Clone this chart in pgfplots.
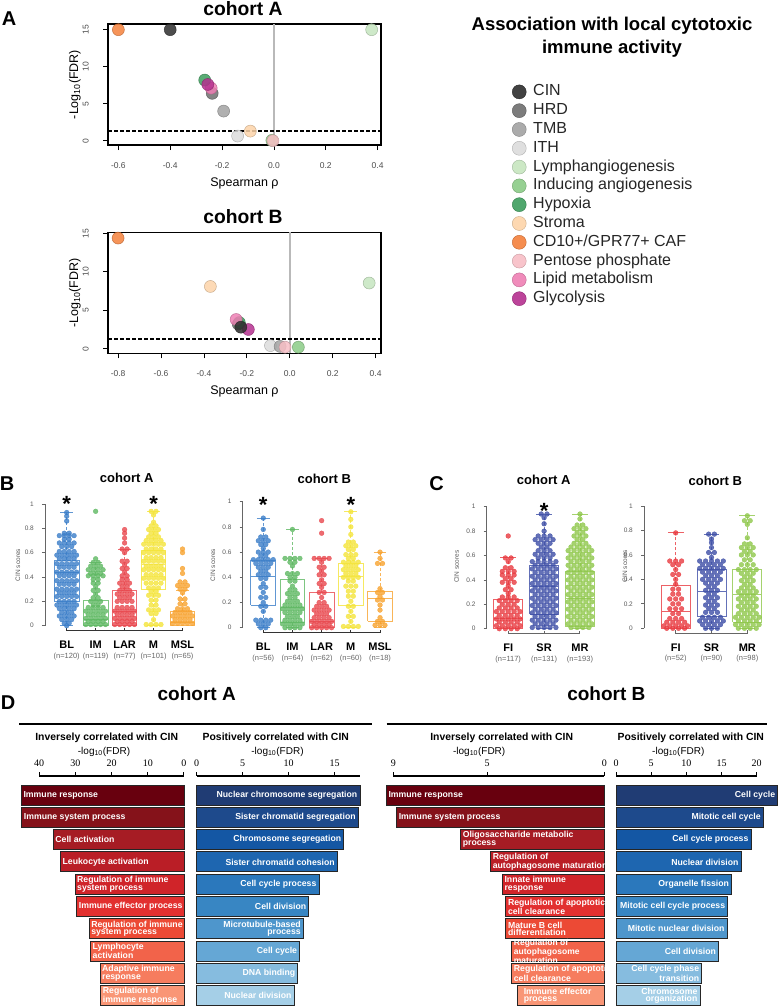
\documentclass[border=0pt]{standalone}
\usepackage{fontspec}
\setmainfont{Liberation Sans}
\newfontfamily\serifnum{Liberation Serif}
\usepackage{pgfplots}
\pgfplotsset{compat=1.18}
\newcommand\fs[1]{\fontsize{#1}{#1}\selectfont}

\definecolor{cCIN}{HTML}{2E2E2E}
\definecolor{cHRD}{HTML}{6E6E6E}
\definecolor{cTMB}{HTML}{A2A2A2}
\definecolor{cITH}{HTML}{DCDCDC}
\definecolor{cLym}{HTML}{C6E5BF}
\definecolor{cAng}{HTML}{8BCB86}
\definecolor{cHyp}{HTML}{3D9D5D}
\definecolor{cStr}{HTML}{FDD4A9}
\definecolor{cCAF}{HTML}{F4813C}
\definecolor{cPen}{HTML}{F7BEC5}
\definecolor{cLip}{HTML}{EE7FB4}
\definecolor{cGly}{HTML}{B5308F}
\definecolor{bBL}{HTML}{3A7DC8}
\definecolor{bIM}{HTML}{5EB862}
\definecolor{bLAR}{HTML}{E8474D}
\definecolor{bM}{HTML}{F4E43A}
\definecolor{bMSL}{HTML}{F7A22E}
\definecolor{cFI}{HTML}{E83A40}
\definecolor{cSR}{HTML}{3D4EA6}
\definecolor{cMR}{HTML}{8EC74A}
\definecolor{r1}{HTML}{68000E}
\definecolor{r2}{HTML}{85121A}
\definecolor{r3}{HTML}{A61C24}
\definecolor{r4}{HTML}{BA1E26}
\definecolor{r5}{HTML}{D02429}
\definecolor{r6}{HTML}{E2302F}
\definecolor{r7}{HTML}{EC4A35}
\definecolor{r8}{HTML}{F2634A}
\definecolor{r9}{HTML}{F67C5E}
\definecolor{r10}{HTML}{F99676}
\definecolor{u1}{HTML}{203C74}
\definecolor{u2}{HTML}{1E4A8C}
\definecolor{u3}{HTML}{1457A4}
\definecolor{u4}{HTML}{1E66B0}
\definecolor{u5}{HTML}{2B78BC}
\definecolor{u6}{HTML}{3886C3}
\definecolor{u7}{HTML}{4E96CC}
\definecolor{u8}{HTML}{65A7D5}
\definecolor{u9}{HTML}{86BCDF}
\definecolor{u10}{HTML}{A5CFE7}

\tikzset{
 leg/.style={only marks, mark=*, mark size=7pt, color=#1, mark options={fill opacity=0.9, draw=#1!80!black, line width=0.4pt}},
 lab/.style={font=\bfseries\fontsize{8.7}{7.8}\selectfont, text=white, inner sep=0pt, align=left, anchor=west, xshift=2pt},
 labr/.style={font=\bfseries\fontsize{8.7}{7.8}\selectfont, text=white, inner sep=0pt, align=right, anchor=east, xshift=-2.5pt},
 star/.style={font=\bfseries\fs{22}, anchor=base, inner sep=0pt},
}
\pgfplotsset{
 enlargelimits=false,
 pt/.style={only marks, mark=*, mark size=6pt, color=#1, mark options={fill opacity=0.85, draw=#1!75!black, draw opacity=0.8, line width=0.5pt}},
 dots/.style={only marks, mark=*, mark size=2.4pt, color=#1, mark options={fill opacity=0.8, draw opacity=0.9, line width=0.3pt}},
 bxl/.style={draw=#1!80!white, line width=0.9pt, no marks},
 volc/.style={scale only axis, clip=false, anchor=south west, width=273pt, height=121pt,
   tick align=outside, xtick pos=left, ytick pos=left, major tick length=5pt,
   every tick/.style={black, line width=0.8pt},
   tick label style={font=\fs{8.5}, text=black!70},
   xticklabel style={anchor=north, inner sep=0pt, yshift=-12pt},
   yticklabel style={xshift=-14pt, rotate=90, anchor=south, inner sep=0pt},
   axis line style={line width=1.1pt}, ytick={0,5,10,15}, yticklabels={0,5,10,15}},
 swarm/.style={scale only axis, clip=false, anchor=south west, ymin=-0.05, ymax=1,
   axis line style={draw=none}, ytick={0,0.2,0.4,0.6,0.8,1}, yticklabels={0,0.2,0.4,0.6,0.8,1},
   ytick pos=left, xtick pos=left, tick align=outside, major tick length=3pt,
   y tick style={black!60, line width=0.8pt}, x tick style={draw=none},
   yticklabel style={font=\fs{6.5}, text=black!65, anchor=east, inner sep=0pt, xshift=-8pt},
   xticklabel style={align=center, font=\fs{11}, inner sep=0pt, anchor=north, yshift=-6pt}},
 hb/.style={xbar, bar width=20pt, bar shift=0pt, draw=black!85, line width=0.9pt},
 dax/.style={scale only axis, clip=false, anchor=south west, height=230.85pt, ymin=0.5, ymax=10.852,
   axis line style={draw=none}, ytick=\empty, xtick pos=right, xticklabel pos=right,
   tick align=outside, major tick length=4pt, x tick style={black, line width=1pt},
   xticklabel style={font=\serifnum\fs{10}, inner sep=0pt, anchor=south, yshift=5pt}},
}
\newcommand\lbl[2]{{\bfseries #1}\\[-1.5pt]{\fs{7.5}\color{black!60}(n=#2)}}
\newcommand\col[3]{\addplot[dots=#1] table[header=false, x expr={#2}, y index=0, row sep=\\]{#3};}
\newcommand\cols[4]{\col{#1}{#2-#3}{#4}\col{#1}{#2+#3}{#4}}
% box: colour, position, half width, lower whisker, q1, median, q3, upper whisker
\newcommand\bx[8]{%
 \addplot[bxl=#1, x filter/.expression={x+#2}] coordinates {(-#3,#5)(#3,#5)(#3,#7)(-#3,#7)(-#3,#5)};
 \addplot[bxl=#1, x filter/.expression={x+#2}] coordinates {(-#3,#6)(#3,#6)};
 \addplot[bxl=#1, densely dashed, x filter/.expression={x+#2}] coordinates {(0,#7)(0,#8)};
 \addplot[bxl=#1, densely dashed, x filter/.expression={x+#2}] coordinates {(0,#5)(0,#4)};
 \addplot[bxl=#1, x filter/.expression={x+#2}] coordinates {(-0.22,#8)(0.22,#8)};
 \addplot[bxl=#1, x filter/.expression={x+#2}] coordinates {(-0.22,#4)(0.22,#4)};
}

\begin{document}
\begin{tikzpicture}[x=1pt,y=1pt]
\path[use as bounding box] (0,0) rectangle (780,-1007);

% panel letters
\node[font=\bfseries\fs{20}] at (9,-19) {A};
\node[font=\bfseries\fs{20}] at (7,-484) {B};
\node[font=\bfseries\fs{20}] at (436.5,-484) {C};
\node[font=\bfseries\fs{20}] at (8,-703) {D};

% ---------------- Panel A texts
\node[font=\bfseries\fs{18.5}, anchor=base] at (612,-30) {Association with local cytotoxic};
\node[font=\bfseries\fs{18.5}, anchor=base] at (612,-53) {immune activity};
\node[font=\bfseries\fs{19.3}, anchor=base] at (243,-15) {cohort A};
\node[font=\bfseries\fs{19.3}, anchor=base] at (243,-223.3) {cohort B};
\node[font=\fs{12.5}, anchor=base] at (244.5,-186) {Spearman ρ};
\node[font=\fs{12.5}, anchor=base] at (244.5,-394) {Spearman ρ};
\node[font=\fs{12.5}, rotate=90] at (75,-84.5) {-Log\textsubscript{10}(FDR)};
\node[font=\fs{12.5}, rotate=90] at (75,-293) {-Log\textsubscript{10}(FDR)};

\begin{axis}[volc, at={(108pt,-145pt)}, xmin=-0.64, xmax=0.413, ymin=-0.58, ymax=15.77,
  xtick={-0.6,-0.4,-0.2,0,0.2,0.4}, xticklabels={-0.6,-0.4,-0.2,0.0,0.2,0.4},
  legend style={at={(1.48,0.515)}, anchor=north west, draw=none, fill=none, inner sep=0pt,
    font=\fs{16}, cells={anchor=west}, row sep=0.8pt, column sep=6pt,
    nodes={inner sep=1pt, text height=12pt, text depth=4pt}, text=black!85},
  legend image code/.code={\draw[#1] plot coordinates {(7pt,0pt)};}]
\addplot[gray!55, line width=1.6pt, forget plot] coordinates {(0,-0.58) (0,15.77)};
\addplot[black, line width=1.8pt, dash pattern=on 4pt off 2pt, forget plot] coordinates {(-0.64,1.3) (0.413,1.3)};
\addplot[pt=cITH, forget plot] coordinates {(-0.14,0.63)};
\addplot[pt=cTMB, forget plot] coordinates {(-0.194,4.0)};
\addplot[pt=cHRD, forget plot] coordinates {(-0.238,6.4)};
\addplot[pt=cAng, forget plot] coordinates {(-0.008,0.05)};
\addplot[pt=cPen, forget plot] coordinates {(-0.004,0.0)};
\addplot[pt=cStr, forget plot] coordinates {(-0.091,1.3)};
\addplot[pt=cLip, forget plot] coordinates {(-0.242,7.1)};
\addplot[pt=cHyp, forget plot] coordinates {(-0.267,8.2)};
\addplot[pt=cGly, forget plot] coordinates {(-0.255,7.6)};
\addplot[pt=cCIN, forget plot] coordinates {(-0.4,15)};
\addplot[pt=cCAF, forget plot] coordinates {(-0.6,15)};
\addplot[pt=cLym, forget plot] coordinates {(0.377,15)};
\addlegendimage{leg=cCIN}\addlegendentry{CIN}
\addlegendimage{leg=cHRD}\addlegendentry{HRD}
\addlegendimage{leg=cTMB}\addlegendentry{TMB}
\addlegendimage{leg=cITH}\addlegendentry{ITH}
\addlegendimage{leg=cLym}\addlegendentry{Lymphangiogenesis}
\addlegendimage{leg=cAng}\addlegendentry{Inducing angiogenesis}
\addlegendimage{leg=cHyp}\addlegendentry{Hypoxia}
\addlegendimage{leg=cStr}\addlegendentry{Stroma}
\addlegendimage{leg=cCAF}\addlegendentry{CD10+/GPR77+ CAF}
\addlegendimage{leg=cPen}\addlegendentry{Pentose phosphate}
\addlegendimage{leg=cLip}\addlegendentry{Lipid metabolism}
\addlegendimage{leg=cGly}\addlegendentry{Glycolysis}
\end{axis}

\begin{axis}[volc, at={(108pt,-353.3pt)}, xmin=-0.847, xmax=0.425, ymin=-0.6, ymax=15.15,
  xtick={-0.8,-0.6,-0.4,-0.2,0,0.2,0.4}, xticklabels={-0.8,-0.6,-0.4,-0.2,0.0,0.2,0.4}]
\addplot[gray!55, line width=1.6pt] coordinates {(0,-0.6) (0,15.15)};
\addplot[black, line width=1.8pt, dash pattern=on 4pt off 2pt] coordinates {(-0.847,1.3) (0.425,1.3)};
\addplot[pt=cITH] coordinates {(-0.09,0.4)};
\addplot[pt=cTMB] coordinates {(-0.045,0.3)};
\addplot[pt=cPen] coordinates {(-0.022,0.2)};
\addplot[pt=cAng] coordinates {(0.04,0.2)};
\addplot[pt=cHRD] coordinates {(-0.24,3.2)};
\addplot[pt=cHyp] coordinates {(-0.235,3.4)};
\addplot[pt=cLip] coordinates {(-0.25,3.8)};
\addplot[pt=cGly] coordinates {(-0.193,2.5)};
\addplot[pt=cCIN] coordinates {(-0.228,2.8)};
\addplot[pt=cStr] coordinates {(-0.37,8.1)};
\addplot[pt=cCAF] coordinates {(-0.8,14.4)};
\addplot[pt=cLym] coordinates {(0.37,8.55)};
\end{axis}

% ---------------- Panel B / C texts
\node[font=\bfseries\fs{13}, anchor=base] at (126.7,-482.5) {cohort A};
\node[font=\bfseries\fs{13}, anchor=base] at (324.3,-483.3) {cohort B};
\node[font=\bfseries\fs{13}, anchor=base] at (543.7,-484.3) {cohort A};
\node[font=\bfseries\fs{13}, anchor=base] at (715.3,-485) {cohort B};
\node[font=\fs{6.5}, text=black!65, rotate=90] at (18,-565) {CIN scores};
\node[font=\fs{6.5}, text=black!65, rotate=90] at (213,-565) {CIN scores};
\node[font=\fs{6.5}, text=black!65, rotate=90] at (456.7,-566.7) {CIN scores};
\node[font=\fs{6.5}, text=black!65, rotate=90] at (625,-566) {CIN scores};

% B cohort A
\begin{axis}[swarm, at={(45pt,-631.8pt)}, width=152pt, height=127.8pt, xmin=0.25, xmax=5.5,
  xtick={1,2,3,4,5},
  xticklabels={{\lbl{BL}{120}},{\lbl{IM}{119}},{\lbl{LAR}{77}},{\lbl{M}{101}},{\lbl{MSL}{65}}}]
\draw[black!60, line width=1pt] (axis cs:0.25,0) -- (axis cs:0.25,1);
\draw[black!80, line width=1pt] (axis cs:1,-0.015) -- (axis cs:1,-0.04) -- (axis cs:5,-0.04) -- (axis cs:5,-0.015);
\draw[black!80, line width=1pt] (axis cs:2,-0.04) -- (axis cs:2,-0.015) (axis cs:3,-0.04) -- (axis cs:3,-0.015) (axis cs:4,-0.04) -- (axis cs:4,-0.015);
\bx{bBL}{1}{0.425}{0}{0.2}{0.44}{0.54}{0.93}
\bx{bIM}{2}{0.425}{0}{0}{0.05}{0.21}{0.52}
\bx{bLAR}{3}{0.425}{0}{0}{0.12}{0.29}{0.63}
\bx{bM}{4}{0.425}{0}{0.3}{0.5}{0.62}{0.94}
\bx{bMSL}{5}{0.425}{0}{0}{0.03}{0.12}{0.29}
\col{bBL}{1}{.93\\.90\\.86\\0\\.65\\.05\\.11\\.58\\.51\\.44\\.37\\.30\\.24\\.17\\}
\cols{bBL}{1}{.085}{.76\\.71\\.02\\.74\\.68\\.61\\.55\\.48\\.41\\.34\\.27\\.20\\.14\\.08\\}
\cols{bBL}{1}{.17}{.65\\.05\\.11\\.58\\.51\\.44\\.37\\.30\\.24\\.17\\}
\cols{bBL}{1}{.255}{.74\\.68\\.61\\.55\\.48\\.41\\.34\\.27\\.20\\.14\\.08\\}
\cols{bBL}{1}{.34}{.58\\.51\\.44\\.37\\.30\\.24\\.17\\}
\col{bIM}{2}{.94\\.55\\.32\\.26\\.49\\.43\\.20\\.12\\.06\\.01\\}
\cols{bIM}{2}{.085}{.52\\.38\\.35\\.29\\.23\\.17\\.46\\.41\\.15\\.09\\.035\\}
\cols{bIM}{2}{.17}{.49\\.43\\.20\\.12\\.06\\.01\\}
\cols{bIM}{2}{.255}{.46\\.41\\.15\\.09\\.035\\}
\cols{bIM}{2}{.34}{.12\\.06\\.01\\}
\col{bLAR}{3}{.79\\.76\\.72\\.68\\.60\\.50\\.44\\.35\\.29\\.23\\.12\\.06\\.01\\}
\cols{bLAR}{3}{.085}{.63\\.53\\.47\\.41\\.38\\.32\\.26\\.20\\.15\\.09\\.035\\}
\cols{bLAR}{3}{.17}{.35\\.29\\.23\\.12\\.06\\.01\\}
\cols{bLAR}{3}{.255}{.26\\.20\\.15\\.09\\.035\\}
\cols{bLAR}{3}{.34}{.12\\.06\\.01\\}
\col{bM}{4}{.91\\.85\\.05\\.79\\.73\\.31\\.25\\.13\\.67\\.60\\.53\\.46\\.39\\}
\cols{bM}{4}{.085}{.94\\.82\\.76\\.28\\.21\\.17\\.10\\.70\\.63\\.56\\.49\\.42\\.35\\.01\\}
\cols{bM}{4}{.17}{.79\\.73\\.31\\.25\\.13\\.67\\.60\\.53\\.46\\.39\\}
\cols{bM}{4}{.255}{.70\\.63\\.56\\.49\\.42\\.35\\.01\\}
\cols{bM}{4}{.34}{.67\\.60\\.53\\.46\\.39\\}
\col{bMSL}{5}{.63\\.60\\.47\\.43\\.27\\.33\\.14\\.08\\.02\\}
\cols{bMSL}{5}{.085}{.36\\.30\\.22\\.18\\.11\\.05\\}
\cols{bMSL}{5}{.17}{.33\\.14\\.08\\.02\\}
\cols{bMSL}{5}{.255}{.11\\.05\\}
\cols{bMSL}{5}{.34}{.08\\.02\\}
\node[star] at (axis cs:1,0.935) {*};
\node[star] at (axis cs:4,0.935) {*};
\end{axis}

% B cohort B
\begin{axis}[swarm, at={(242.7pt,-634pt)}, width=151.9pt, height=132.3pt, xmin=0.295, xmax=5.5,
  xtick={1,2,3,4,5},
  xticklabels={{\lbl{BL}{56}},{\lbl{IM}{64}},{\lbl{LAR}{62}},{\lbl{M}{60}},{\lbl{MSL}{18}}}]
\draw[black!60, line width=1pt] (axis cs:0.295,0) -- (axis cs:0.295,1);
\draw[black!80, line width=1pt] (axis cs:1,-0.015) -- (axis cs:1,-0.04) -- (axis cs:5,-0.04) -- (axis cs:5,-0.015);
\draw[black!80, line width=1pt] (axis cs:2,-0.04) -- (axis cs:2,-0.015) (axis cs:3,-0.04) -- (axis cs:3,-0.015) (axis cs:4,-0.04) -- (axis cs:4,-0.015);
\bx{bBL}{1}{0.425}{0}{0.18}{0.41}{0.53}{0.87}
\bx{bIM}{2}{0.425}{0}{0.04}{0.16}{0.38}{0.78}
\bx{bLAR}{3}{0.425}{0}{0}{0.05}{0.28}{0.55}
\bx{bM}{4}{0.425}{0}{0.18}{0.41}{0.51}{0.92}
\bx{bMSL}{5}{0.425}{0}{0.05}{0.23}{0.29}{0.60}
\col{bBL}{1}{.87\\.78\\.63\\.35\\.28\\.20\\.13\\.69\\.60\\.48\\.42\\.03\\.54\\}
\cols{bBL}{1}{.085}{.72\\.66\\.57\\.45\\.39\\.32\\.24\\.17\\0\\.51\\.06\\}
\cols{bBL}{1}{.17}{.69\\.60\\.48\\.42\\.03\\.54\\}
\cols{bBL}{1}{.255}{.51\\.06\\}
\cols{bBL}{1}{.34}{.54\\}
\col{bIM}{2}{.78\\.49\\.33\\.43\\.27\\.21\\.09\\.15\\.03\\}
\cols{bIM}{2}{.085}{.52\\.40\\.37\\.30\\.24\\.55\\.18\\.12\\.06\\0\\}
\cols{bIM}{2}{.17}{.43\\.27\\.21\\.09\\.15\\.03\\}
\cols{bIM}{2}{.255}{.55\\.18\\.12\\.06\\0\\}
\cols{bIM}{2}{.34}{.15\\.03\\}
\col{bLAR}{3}{.85\\.75\\.52\\.45\\.38\\.32\\.24\\.17\\.11\\.05\\0\\}
\cols{bLAR}{3}{.085}{.48\\.42\\.35\\.28\\.20\\.55\\.14\\.08\\.025\\}
\cols{bLAR}{3}{.17}{.17\\.11\\.05\\0\\}
\cols{bLAR}{3}{.255}{.55\\.14\\.08\\.025\\}
\cols{bLAR}{3}{.34}{.05\\0\\}
\col{bM}{4}{.92\\.86\\.80\\.74\\.21\\.13\\.05\\.65\\.58\\.49\\.43\\.33\\}
\cols{bM}{4}{.085}{.68\\.62\\.55\\.37\\.29\\.25\\.17\\.09\\.52\\.46\\.40\\.01\\}
\cols{bM}{4}{.17}{.65\\.58\\.49\\.43\\.33\\}
\cols{bM}{4}{.255}{.52\\.46\\.40\\.01\\}
\col{bMSL}{5}{.60\\.55\\.31\\.25\\.18\\.14\\.08\\.02\\}
\cols{bMSL}{5}{.085}{.51\\.28\\.22\\.05\\}
\cols{bMSL}{5}{.17}{.02\\}
\node[star] at (axis cs:1,0.912) {*};
\node[star] at (axis cs:4,0.912) {*};
\end{axis}

% C cohort A
\begin{axis}[swarm, at={(486.7pt,-634.8pt)}, width=113pt, height=128.1pt, xmin=0.4, xmax=3.55,
  xtick={1,2,3},
  xticklabels={{\lbl{FI}{117}},{\lbl{SR}{131}},{\lbl{MR}{193}}}]
\draw[black!60, line width=1pt] (axis cs:0.4,0) -- (axis cs:0.4,1);
\draw[black!60, line width=1pt] (axis cs:1,-0.015) -- (axis cs:1,-0.04) -- (axis cs:3,-0.04) -- (axis cs:3,-0.015);
\draw[black!60, line width=1pt] (axis cs:2,-0.04) -- (axis cs:2,-0.015);
\bx{cFI}{1}{0.405}{0}{0}{0.08}{0.24}{0.58}
\bx{cSR}{2}{0.405}{0}{0.12}{0.35}{0.52}{0.94}
\bx{cMR}{3}{0.405}{0}{0.02}{0.25}{0.47}{0.94}
\col{cFI}{1}{.76\\.55\\.29\\.35\\.47\\.44\\.38\\.26\\.20\\.14\\.08\\.025\\}
\cols{cFI}{1}{.08}{.58\\.50\\.41\\.32\\.23\\.17\\.11\\.055\\0\\}
\cols{cFI}{1}{.165}{.47\\.44\\.38\\.26\\.20\\.14\\.08\\.025\\}
\cols{cFI}{1}{.25}{.23\\.17\\.11\\.055\\0\\}
\cols{cFI}{1}{.33}{.14\\.08\\.025\\}
\col{cSR}{2}{.91\\.86\\.80\\.76\\.70\\.64\\.58\\.55\\.49\\.43\\.37\\.31\\.25\\.19\\.13\\.07\\.01\\}
\cols{cSR}{2}{.08}{.94\\.67\\.73\\.61\\.52\\.46\\.40\\.34\\.28\\.22\\.16\\.10\\.04\\}
\cols{cSR}{2}{.165}{.76\\.70\\.64\\.58\\.55\\.49\\.43\\.37\\.31\\.25\\.19\\.13\\.07\\.01\\}
\cols{cSR}{2}{.25}{.73\\.61\\.52\\.46\\.40\\.34\\.28\\.22\\.16\\.10\\.04\\}
\cols{cSR}{2}{.33}{.55\\.49\\.43\\.37\\.31\\.25\\.19\\.13\\.07\\.01\\}
\col{cMR}{3}{.94\\.90\\.82\\.76\\.70\\.64\\.58\\.52\\.46\\.40\\.34\\.28\\.22\\.16\\.10\\.04\\}
\cols{cMR}{3}{.08}{.85\\.79\\.73\\.67\\.61\\.55\\.49\\.43\\.37\\.31\\.25\\.19\\.13\\.07\\.01\\}
\cols{cMR}{3}{.165}{.82\\.76\\.70\\.64\\.58\\.52\\.46\\.40\\.34\\.28\\.22\\.16\\.10\\.04\\}
\cols{cMR}{3}{.25}{.67\\.61\\.55\\.49\\.43\\.37\\.31\\.25\\.19\\.13\\.07\\.01\\}
\cols{cMR}{3}{.33}{.64\\.58\\.52\\.46\\.40\\.34\\.28\\.22\\.16\\.10\\.04\\}
\node[star] at (axis cs:2,0.9) {*};
\end{axis}

% C cohort B
\begin{axis}[swarm, at={(644pt,-634.4pt)}, width=123pt, height=128.4pt, xmin=0.115, xmax=3.55,
  xtick={1,2,3},
  xticklabels={{\lbl{FI}{52}},{\lbl{SR}{90}},{\lbl{MR}{98}}}]
\draw[black!60, line width=1pt] (axis cs:0.115,0) -- (axis cs:0.115,1);
\draw[black!60, line width=1pt] (axis cs:1,-0.015) -- (axis cs:1,-0.04) -- (axis cs:3,-0.04) -- (axis cs:3,-0.015);
\draw[black!60, line width=1pt] (axis cs:2,-0.04) -- (axis cs:2,-0.015);
\bx{cFI}{1}{0.405}{0}{0}{0.14}{0.35}{0.78}
\bx{cSR}{2}{0.405}{0}{0.1}{0.3}{0.48}{0.77}
\bx{cMR}{3}{0.405}{0}{0.05}{0.28}{0.48}{0.92}
\col{cFI}{1}{.78\\.48\\.40\\.36\\.55\\.24\\.16\\.08\\.02\\}
\cols{cFI}{1}{.08}{.52\\.44\\.32\\.28\\.20\\.12\\.05\\0\\}
\cols{cFI}{1}{.165}{.55\\.24\\.16\\.08\\.02\\}
\cols{cFI}{1}{.25}{.05\\0\\}
\cols{cFI}{1}{.33}{.02\\}
\col{cSR}{2}{.73\\.70\\.66\\.58\\.43\\.37\\.31\\.25\\.19\\.13\\0\\.55\\.49\\.06\\}
\cols{cSR}{2}{.08}{.77\\.62\\.34\\.28\\.22\\.16\\.52\\.46\\.40\\.09\\.03\\}
\cols{cSR}{2}{.165}{.43\\.37\\.31\\.25\\.19\\.13\\0\\.55\\.49\\.06\\}
\cols{cSR}{2}{.25}{.52\\.46\\.40\\.09\\.03\\}
\cols{cSR}{2}{.33}{.55\\.49\\.06\\}
\col{cMR}{3}{.92\\.85\\.74\\.66\\.60\\.52\\.45\\.39\\.33\\.27\\.21\\.15\\.09\\.03\\}
\cols{cMR}{3}{.08}{.88\\.69\\.63\\.56\\.42\\.36\\.48\\.30\\.24\\.18\\.12\\.06\\0\\}
\cols{cMR}{3}{.165}{.66\\.60\\.52\\.45\\.39\\.33\\.27\\.21\\.15\\.09\\.03\\}
\cols{cMR}{3}{.25}{.48\\.30\\.24\\.18\\.12\\.06\\0\\}
\cols{cMR}{3}{.33}{.09\\.03\\}
\end{axis}

% ---------------- Panel D texts
\node[font=\bfseries\fs{19}, anchor=base] at (196.7,-700) {cohort A};
\node[font=\bfseries\fs{19}, anchor=base] at (606.3,-700) {cohort B};
\draw[line width=2pt] (19,-724) -- (371.7,-724);
\draw[line width=2pt] (386.7,-724) -- (766.7,-724);
\node[font=\bfseries\fs{10.4}, anchor=base] at (106.7,-740.2) {Inversely correlated with CIN};
\node[font=\bfseries\fs{10.4}, anchor=base] at (275.8,-740.2) {Positively correlated with CIN};
\node[font=\bfseries\fs{10.4}, anchor=base] at (501.7,-740.2) {Inversely correlated with CIN};
\node[font=\bfseries\fs{10.4}, anchor=base] at (690.8,-740.2) {Positively correlated with CIN};
\node[font=\fs{10}, anchor=base] at (104,-754) {-log\textsubscript{10}(FDR)};
\node[font=\fs{10}, anchor=base] at (277.5,-754) {-log\textsubscript{10}(FDR)};
\node[font=\fs{10}, anchor=base] at (479.2,-754) {-log\textsubscript{10}(FDR)};
\node[font=\fs{10}, anchor=base] at (678.3,-754) {-log\textsubscript{10}(FDR)};

% D cohort A left
\begin{axis}[dax, at={(21pt,-1006.85pt)}, width=163pt, x dir=reverse, xmin=0, xmax=45,
  xtick={0,10,20,30,40}, xticklabels={0,10,20,30,40}]
\draw[line width=1.1pt] (axis cs:40,10.852) -- (axis cs:0,10.852);
\addplot[hb, fill=r1] coordinates {(44.9,10)};
\addplot[hb, fill=r2] coordinates {(44.8,9)};
\addplot[hb, fill=r3] coordinates {(36.1,8)};
\addplot[hb, fill=r4] coordinates {(34.1,7)};
\addplot[hb, fill=r5] coordinates {(30.1,6)};
\addplot[hb, fill=r6] coordinates {(29.6,5)};
\addplot[hb, fill=r7] coordinates {(26.2,4)};
\addplot[hb, fill=r8] coordinates {(25.8,3)};
\addplot[hb, fill=r9] coordinates {(23.2,2)};
\addplot[hb, fill=r10] coordinates {(23.0,1)};
\node[lab] at (axis cs:44.9,10) {Immune response};
\node[lab] at (axis cs:44.8,9) {Immune system process};
\node[lab] at (axis cs:36.1,8) {Cell activation};
\node[lab] at (axis cs:34.1,7) {Leukocyte activation};
\node[lab] at (axis cs:30.1,6) {Regulation of immune\\system process};
\node[lab] at (axis cs:29.6,5) {Immune effector process};
\node[lab] at (axis cs:26.2,4) {Regulation of immune\\system process};
\node[lab] at (axis cs:25.8,3) {Lymphocyte\\activation};
\node[lab] at (axis cs:23.2,2) {Adaptive immune\\response};
\node[lab] at (axis cs:23.0,1) {Regulation of\\immune response};
\end{axis}

% D cohort A right
\begin{axis}[dax, at={(196.7pt,-1006.85pt)}, width=163.3pt, xmin=0, xmax=17.75,
  xtick={0,5,10,15}, xticklabels={0,5,10,15}]
\draw[line width=1.1pt] (axis cs:0,10.852) -- (axis cs:17.75,10.852);
\addplot[hb, fill=u1] coordinates {(17.75,10)};
\addplot[hb, fill=u2] coordinates {(17.57,9)};
\addplot[hb, fill=u3] coordinates {(16.0,8)};
\addplot[hb, fill=u4] coordinates {(15.3,7)};
\addplot[hb, fill=u5] coordinates {(13.3,6)};
\addplot[hb, fill=u6] coordinates {(12.2,5)};
\addplot[hb, fill=u7] coordinates {(11.6,4)};
\addplot[hb, fill=u8] coordinates {(11.2,3)};
\addplot[hb, fill=u9] coordinates {(11.0,2)};
\addplot[hb, fill=u10] coordinates {(10.6,1)};
\node[labr] at (axis cs:17.75,10) {Nuclear chromosome segregation};
\node[labr] at (axis cs:17.57,9) {Sister chromatid segregation};
\node[labr] at (axis cs:16.0,8) {Chromosome segregation};
\node[labr] at (axis cs:15.3,7) {Sister chromatid cohesion};
\node[labr] at (axis cs:13.3,6) {Cell cycle process};
\node[labr] at (axis cs:12.2,5) {Cell division};
\node[labr] at (axis cs:11.6,4) {Microtubule-based\\process};
\node[labr] at (axis cs:11.2,3) {Cell cycle};
\node[labr] at (axis cs:11.0,2) {DNA binding};
\node[labr] at (axis cs:10.6,1) {Nuclear division};
\end{axis}

% D cohort B left
\begin{axis}[dax, at={(386.3pt,-1006.85pt)}, width=218pt, x dir=reverse, xmin=0, xmax=9.3,
  xtick={0,5,9}, xticklabels={0,5,9}]
\draw[line width=1.1pt] (axis cs:9,10.852) -- (axis cs:0,10.852);
\addplot[hb, fill=r1] coordinates {(9.3,10)};
\addplot[hb, fill=r2] coordinates {(8.86,9)};
\addplot[hb, fill=r3] coordinates {(6.13,8)};
\addplot[hb, fill=r4] coordinates {(4.85,7)};
\addplot[hb, fill=r5] coordinates {(4.35,6)};
\addplot[hb, fill=r6] coordinates {(4.2,5)};
\addplot[hb, fill=r7] coordinates {(4.2,4)};
\addplot[hb, fill=r8] coordinates {(3.95,3)};
\addplot[hb, fill=r9] coordinates {(3.95,2)};
\addplot[hb, fill=r10] coordinates {(3.7,1)};
\node[lab] at (axis cs:9.3,10) {Immune response};
\node[lab] at (axis cs:8.86,9) {Immune system process};
\node[lab] at (axis cs:6.13,8) {Oligosaccharide metabolic\\process};
\node[lab] at (axis cs:4.85,7) {Regulation of\\autophagosome maturation};
\node[lab] at (axis cs:4.35,6) {Innate immune\\response};
\node[lab] at (axis cs:4.2,5) {Regulation of apoptotic\\cell clearance};
\node[lab] at (axis cs:4.2,4) {Mature B cell\\differentiation};
\node[lab, font=\bfseries\fontsize{8.5}{6.3}\selectfont] at (axis cs:3.95,3) {Regulation of\\autophagosome\\maturation};
\node[lab] at (axis cs:3.95,2) {Regulation of apoptotic\\cell clearance};
\node[lab, xshift=4pt] at (axis cs:3.7,1) {Immune effector\\process};
\end{axis}

% D cohort B right
\begin{axis}[dax, at={(616pt,-1006.85pt)}, width=161.8pt, xmin=0, xmax=23,
  xtick={0,5,10,15,20}, xticklabels={0,5,10,15,20}]
\draw[line width=1.1pt] (axis cs:0,10.852) -- (axis cs:20,10.852);
\addplot[hb, fill=u1] coordinates {(23.0,10)};
\addplot[hb, fill=u2] coordinates {(20.95,9)};
\addplot[hb, fill=u3] coordinates {(19.2,8)};
\addplot[hb, fill=u4] coordinates {(17.8,7)};
\addplot[hb, fill=u5] coordinates {(16.45,6)};
\addplot[hb, fill=u6] coordinates {(15.9,5)};
\addplot[hb, fill=u7] coordinates {(15.8,4)};
\addplot[hb, fill=u8] coordinates {(14.6,3)};
\addplot[hb, fill=u9] coordinates {(12.2,2)};
\addplot[hb, fill=u10] coordinates {(11.95,1)};
\node[labr] at (axis cs:23.0,10) {Cell cycle};
\node[labr] at (axis cs:20.95,9) {Mitotic cell cycle};
\node[labr] at (axis cs:19.2,8) {Cell cycle process};
\node[labr] at (axis cs:17.8,7) {Nuclear division};
\node[labr] at (axis cs:16.45,6) {Organelle fission};
\node[labr] at (axis cs:15.9,5) {Mitotic cell cycle process};
\node[labr] at (axis cs:15.8,4) {Mitotic nuclear division};
\node[labr] at (axis cs:14.6,3) {Cell division};
\node[labr] at (axis cs:12.2,2) {Cell cycle phase\\transition};
\node[labr] at (axis cs:11.95,1) {Chromosome\\organization};
\end{axis}
\end{tikzpicture}
\end{document}
